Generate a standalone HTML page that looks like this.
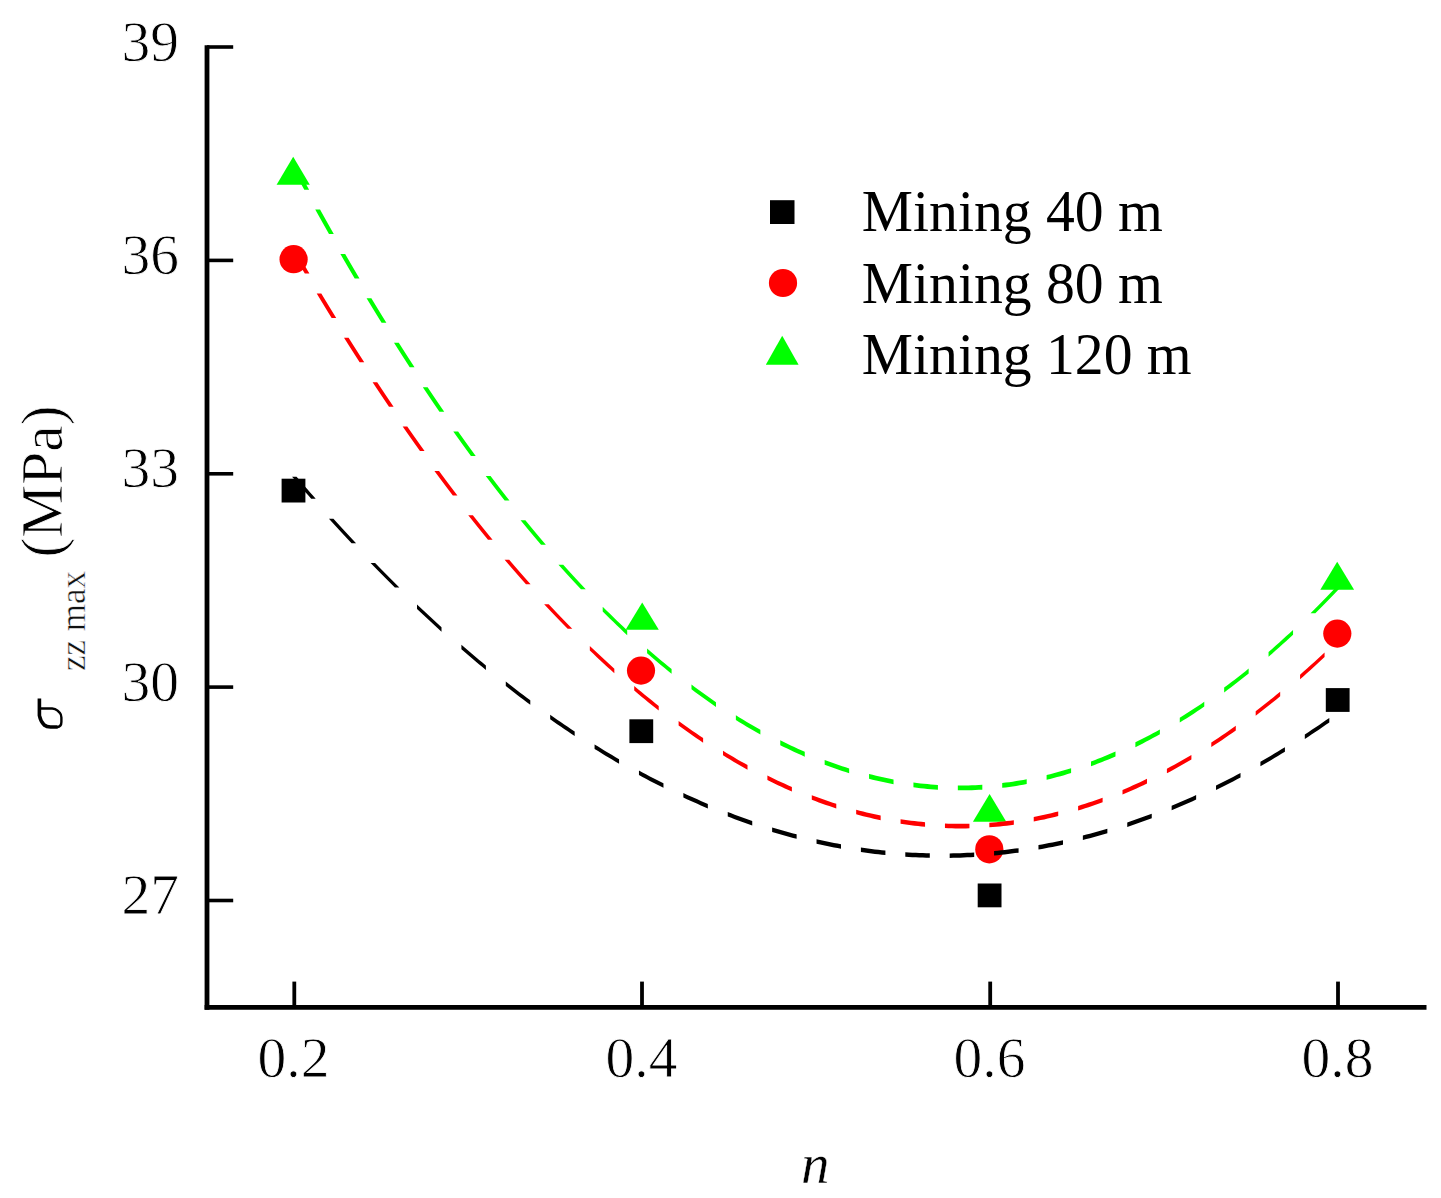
<!DOCTYPE html>
<html><head><meta charset="utf-8"><style>
html,body{margin:0;padding:0;background:#fff;width:1441px;height:1198px;overflow:hidden}
svg{display:block}
text{font-family:"Liberation Serif",serif;fill:#000;stroke:#fff;stroke-width:0.8px;paint-order:fill stroke}
</style></head><body>
<svg width="1441" height="1198" viewBox="0 0 1441 1198">
<rect width="1441" height="1198" fill="#fff"/>

<rect x="281.60" y="478.70" width="23.8" height="23.8" fill="#000"/>
<rect x="629.40" y="719.30" width="23.8" height="23.8" fill="#000"/>
<rect x="977.70" y="883.50" width="23.8" height="23.8" fill="#000"/>
<rect x="1325.80" y="688.10" width="23.8" height="23.8" fill="#000"/>
<circle cx="293.6" cy="259.2" r="14.1" fill="#f00"/>
<circle cx="641" cy="670.6" r="14.1" fill="#f00"/>
<circle cx="989.3" cy="849.3" r="14.1" fill="#f00"/>
<circle cx="1337.3" cy="633.6" r="14.1" fill="#f00"/>
<polygon points="293.20,156.7 309.80,184.7 276.60,184.7" fill="#0f0"/>
<polygon points="642.20,602.5 658.80,629.8 625.60,629.8" fill="#0f0"/>
<polygon points="989.60,794.1 1006.30,821.8 972.90,821.8" fill="#0f0"/>
<polygon points="1337.20,561.7 1354.10,589.8 1320.30,589.8" fill="#0f0"/>
<path d="M292.05,476.68 L294.75,479.84 L297.46,482.99 L300.18,486.14 L302.92,489.29 L305.66,492.45 L308.42,495.60 L311.19,498.75 L315.69,498.75 L312.92,495.60 L310.16,492.45 L307.42,489.29 L304.68,486.14 L301.96,482.99 L299.25,479.84 L296.55,476.68Z M328.95,518.64 L332.13,522.14 L335.33,525.64 L338.54,529.14 L341.77,532.64 L345.02,536.14 L348.29,539.64 L351.57,543.14 L356.07,543.14 L352.79,539.64 L349.52,536.14 L346.27,532.64 L343.04,529.14 L339.83,525.64 L336.63,522.14 L333.45,518.64Z M370.59,563.03 L374.01,566.53 L377.44,570.03 L380.90,573.53 L384.37,577.03 L387.87,580.53 L391.37,584.01 L394.87,587.47 L399.37,587.47 L395.87,584.01 L392.37,580.53 L388.87,577.03 L385.40,573.53 L381.94,570.03 L378.51,566.53 L375.09,563.03Z M417.01,604.44 L420.51,607.75 L424.01,611.04 L427.51,614.30 L431.01,617.55 L434.51,620.77 L438.01,623.96 L441.51,627.14 L441.51,631.64 L438.01,628.46 L434.51,625.27 L431.01,622.05 L427.51,618.80 L424.01,615.54 L420.51,612.25 L417.01,608.94Z M461.40,644.77 L464.90,647.80 L468.40,650.81 L471.90,653.79 L475.40,656.75 L478.90,659.69 L482.40,662.61 L485.90,665.50 L485.90,670.00 L482.40,667.11 L478.90,664.19 L475.40,661.25 L471.90,658.29 L468.40,655.31 L464.90,652.30 L461.40,649.27Z M505.79,681.54 L509.29,684.29 L512.79,687.01 L516.29,689.72 L519.79,692.40 L523.29,695.06 L526.79,697.69 L530.29,700.31 L530.29,704.81 L526.79,702.19 L523.29,699.56 L519.79,696.90 L516.29,694.22 L512.79,691.51 L509.29,688.79 L505.79,686.04Z M550.18,714.75 L553.68,717.21 L557.18,719.66 L560.68,722.08 L564.18,724.48 L567.68,726.86 L571.18,729.22 L574.68,731.55 L574.68,736.05 L571.18,733.72 L567.68,731.36 L564.18,728.98 L560.68,726.58 L557.18,724.16 L553.68,721.71 L550.18,719.25Z M594.57,744.39 L598.07,746.58 L601.57,748.74 L605.07,750.89 L608.57,753.01 L612.07,755.10 L615.57,757.18 L619.07,759.23 L619.07,763.73 L615.57,761.68 L612.07,759.60 L608.57,757.51 L605.07,755.39 L601.57,753.24 L598.07,751.08 L594.57,748.89Z M638.96,770.48 L642.46,772.39 L645.96,774.27 L649.46,776.13 L652.96,777.97 L656.46,779.79 L659.96,781.58 L663.46,783.35 L663.46,787.85 L659.96,786.08 L656.46,784.29 L652.96,782.47 L649.46,780.63 L645.96,778.77 L642.46,776.89 L638.96,774.98Z M683.35,793.01 L686.85,794.63 L690.35,796.23 L693.85,797.81 L697.35,799.37 L700.85,800.91 L704.35,802.42 L707.85,803.91 L707.85,808.41 L704.35,806.92 L700.85,805.41 L697.35,803.87 L693.85,802.31 L690.35,800.73 L686.85,799.13 L683.35,797.51Z M727.74,811.97 L731.24,813.32 L734.74,814.64 L738.24,815.94 L741.74,817.21 L745.24,818.47 L748.74,819.70 L752.24,820.91 L752.24,825.41 L748.74,824.20 L745.24,822.97 L741.74,821.71 L738.24,820.44 L734.74,819.14 L731.24,817.82 L727.74,816.47Z M772.13,827.38 L775.63,828.44 L779.13,829.48 L782.63,830.50 L786.13,831.50 L789.63,832.47 L793.13,833.42 L796.63,834.35 L796.63,838.85 L793.13,837.92 L789.63,836.97 L786.13,836.00 L782.63,835.00 L779.13,833.98 L775.63,832.94 L772.13,831.88Z M816.52,839.22 L820.02,840.00 L823.52,840.76 L827.02,841.50 L830.52,842.22 L834.02,842.91 L837.52,843.58 L841.02,844.23 L841.02,848.73 L837.52,848.08 L834.02,847.41 L830.52,846.72 L827.02,846.00 L823.52,845.26 L820.02,844.50 L816.52,843.72Z M860.91,847.50 L864.41,848.01 L867.91,848.48 L871.41,848.94 L874.91,849.38 L878.41,849.79 L881.91,850.18 L885.41,850.55 L885.41,855.05 L881.91,854.68 L878.41,854.29 L874.91,853.88 L871.41,853.44 L867.91,852.98 L864.41,852.51 L860.91,852.00Z M905.30,852.23 L908.80,852.45 L912.30,852.65 L915.80,852.82 L919.30,852.98 L922.80,853.11 L926.30,853.22 L929.80,853.31 L929.80,857.81 L926.30,857.72 L922.80,857.61 L919.30,857.48 L915.80,857.32 L912.30,857.15 L908.80,856.95 L905.30,856.73Z M949.69,853.39 L953.19,853.33 L956.69,853.25 L960.19,853.14 L963.69,853.02 L967.19,852.87 L970.69,852.70 L974.19,852.51 L974.19,857.01 L970.69,857.20 L967.19,857.37 L963.69,857.52 L960.19,857.64 L956.69,857.75 L953.19,857.83 L949.69,857.89Z M994.08,850.99 L997.58,850.65 L1001.08,850.29 L1004.58,849.90 L1008.08,849.50 L1011.58,849.07 L1015.08,848.62 L1018.58,848.14 L1018.58,852.64 L1015.08,853.12 L1011.58,853.57 L1008.08,854.00 L1004.58,854.40 L1001.08,854.79 L997.58,855.15 L994.08,855.49Z M1038.47,845.03 L1041.97,844.41 L1045.47,843.77 L1048.97,843.10 L1052.47,842.41 L1055.97,841.70 L1059.47,840.97 L1062.97,840.22 L1062.97,844.72 L1059.47,845.47 L1055.97,846.20 L1052.47,846.91 L1048.97,847.60 L1045.47,848.27 L1041.97,848.91 L1038.47,849.53Z M1082.86,835.51 L1086.36,834.61 L1089.86,833.69 L1093.36,832.74 L1096.86,831.77 L1100.36,830.78 L1103.86,829.77 L1107.36,828.73 L1107.36,833.23 L1103.86,834.27 L1100.36,835.28 L1096.86,836.27 L1093.36,837.24 L1089.86,838.19 L1086.36,839.11 L1082.86,840.01Z M1127.25,822.43 L1130.75,821.25 L1134.25,820.04 L1137.75,818.82 L1141.25,817.57 L1144.75,816.30 L1148.25,815.00 L1151.75,813.69 L1151.75,818.19 L1148.25,819.50 L1144.75,820.80 L1141.25,822.07 L1137.75,823.32 L1134.25,824.54 L1130.75,825.75 L1127.25,826.93Z M1171.64,805.79 L1175.14,804.33 L1178.64,802.84 L1182.14,801.33 L1185.64,799.80 L1189.14,798.25 L1192.64,796.68 L1196.14,795.08 L1196.14,799.58 L1192.64,801.18 L1189.14,802.75 L1185.64,804.30 L1182.14,805.83 L1178.64,807.34 L1175.14,808.83 L1171.64,810.29Z M1216.03,785.59 L1219.53,783.85 L1223.03,782.08 L1226.53,780.29 L1230.03,778.48 L1233.53,776.65 L1237.03,774.79 L1240.53,772.92 L1240.53,777.42 L1237.03,779.29 L1233.53,781.15 L1230.03,782.98 L1226.53,784.79 L1223.03,786.58 L1219.53,788.35 L1216.03,790.09Z M1260.42,761.83 L1263.92,759.80 L1267.42,757.76 L1270.92,755.69 L1274.42,753.60 L1277.92,751.48 L1281.42,749.35 L1284.92,747.19 L1284.92,751.69 L1281.42,753.85 L1277.92,755.98 L1274.42,758.10 L1270.92,760.19 L1267.42,762.26 L1263.92,764.30 L1260.42,766.33Z M1304.81,734.51 L1308.31,732.20 L1311.81,729.87 L1315.31,727.52 L1318.81,725.15 L1322.31,722.76 L1325.81,720.34 L1329.31,717.90 L1329.31,722.40 L1325.81,724.84 L1322.31,727.26 L1318.81,729.65 L1315.31,732.02 L1311.81,734.37 L1308.31,736.70 L1304.81,739.01Z" fill="#000"/>
<path d="M292.00,251.61 L293.82,254.75 L295.64,257.88 L297.47,261.01 L299.30,264.14 L301.14,267.27 L302.99,270.40 L304.83,273.53 L309.43,273.53 L307.59,270.40 L305.74,267.27 L303.90,264.14 L302.07,261.01 L300.24,257.88 L298.42,254.75 L296.60,251.61Z M316.70,293.42 L318.81,296.92 L320.93,300.42 L323.06,303.92 L325.19,307.42 L327.33,310.92 L329.48,314.42 L331.63,317.92 L336.23,317.92 L334.08,314.42 L331.93,310.92 L329.79,307.42 L327.66,303.92 L325.53,300.42 L323.41,296.92 L321.30,293.42Z M344.02,337.81 L346.22,341.31 L348.43,344.81 L350.66,348.31 L352.89,351.81 L355.12,355.31 L357.37,358.81 L359.62,362.31 L364.22,362.31 L361.97,358.81 L359.72,355.31 L357.49,351.81 L355.26,348.31 L353.03,344.81 L350.82,341.31 L348.62,337.81Z M372.60,382.20 L374.92,385.70 L377.24,389.20 L379.57,392.70 L381.91,396.20 L384.26,399.70 L386.62,403.20 L388.99,406.70 L393.59,406.70 L391.22,403.20 L388.86,399.70 L386.51,396.20 L384.17,392.70 L381.84,389.20 L379.52,385.70 L377.20,382.20Z M402.66,426.59 L405.10,430.09 L407.55,433.59 L410.01,437.09 L412.48,440.59 L414.96,444.09 L417.46,447.59 L419.96,451.09 L424.56,451.09 L422.06,447.59 L419.56,444.09 L417.08,440.59 L414.61,437.09 L412.15,433.59 L409.70,430.09 L407.26,426.59Z M434.43,470.98 L437.02,474.48 L439.62,477.98 L442.23,481.48 L444.86,484.98 L447.50,488.48 L450.16,491.98 L452.82,495.48 L457.42,495.48 L454.76,491.98 L452.10,488.48 L449.46,484.98 L446.83,481.48 L444.22,477.98 L441.62,474.48 L439.03,470.98Z M468.26,515.37 L471.03,518.87 L473.81,522.37 L476.61,525.87 L479.43,529.37 L482.26,532.87 L485.11,536.37 L487.98,539.87 L492.58,539.87 L489.71,536.37 L486.86,532.87 L484.03,529.37 L481.21,525.87 L478.41,522.37 L475.63,518.87 L472.86,515.37Z M504.61,559.76 L507.60,563.26 L510.61,566.76 L513.64,570.26 L516.70,573.76 L519.77,577.26 L522.86,580.76 L525.98,584.26 L530.58,584.26 L527.46,580.76 L524.37,577.26 L521.30,573.76 L518.24,570.26 L515.21,566.76 L512.20,563.26 L509.21,559.76Z M544.14,604.15 L547.42,607.65 L550.72,611.15 L554.05,614.65 L557.41,618.15 L560.80,621.65 L564.22,625.15 L567.66,628.65 L572.26,628.65 L568.82,625.15 L565.40,621.65 L562.01,618.15 L558.65,614.65 L555.32,611.15 L552.02,607.65 L548.74,604.15Z M589.83,645.93 L593.33,649.27 L596.83,652.58 L600.33,655.86 L603.83,659.11 L607.33,662.33 L610.83,665.51 L614.33,668.66 L614.33,673.26 L610.83,670.11 L607.33,666.93 L603.83,663.71 L600.33,660.46 L596.83,657.18 L593.33,653.87 L589.83,650.53Z M634.22,685.98 L637.72,688.92 L641.22,691.83 L644.72,694.70 L648.22,697.55 L651.72,700.36 L655.22,703.15 L658.72,705.90 L658.72,710.50 L655.22,707.75 L651.72,704.96 L648.22,702.15 L644.72,699.30 L641.22,696.43 L637.72,693.52 L634.22,690.58Z M678.61,720.92 L682.11,723.46 L685.61,725.97 L689.11,728.45 L692.61,730.89 L696.11,733.30 L699.61,735.68 L703.11,738.03 L703.11,742.63 L699.61,740.28 L696.11,737.90 L692.61,735.49 L689.11,733.05 L685.61,730.57 L682.11,728.06 L678.61,725.52Z M723.00,750.77 L726.50,752.91 L730.00,755.01 L733.50,757.09 L737.00,759.13 L740.50,761.14 L744.00,763.12 L747.50,765.06 L747.50,769.66 L744.00,767.72 L740.50,765.74 L737.00,763.73 L733.50,761.69 L730.00,759.61 L726.50,757.51 L723.00,755.37Z M767.39,775.52 L770.89,777.25 L774.39,778.96 L777.89,780.63 L781.39,782.27 L784.89,783.87 L788.39,785.45 L791.89,786.99 L791.89,791.59 L788.39,790.05 L784.89,788.47 L781.39,786.87 L777.89,785.23 L774.39,783.56 L770.89,781.85 L767.39,780.12Z M811.78,795.17 L815.28,796.50 L818.78,797.80 L822.28,799.07 L825.78,800.31 L829.28,801.51 L832.78,802.69 L836.28,803.83 L836.28,808.43 L832.78,807.29 L829.28,806.11 L825.78,804.91 L822.28,803.67 L818.78,802.40 L815.28,801.10 L811.78,799.77Z M856.17,809.72 L859.67,810.65 L863.17,811.54 L866.67,812.41 L870.17,813.25 L873.67,814.05 L877.17,814.82 L880.67,815.56 L880.67,820.16 L877.17,819.42 L873.67,818.65 L870.17,817.85 L866.67,817.01 L863.17,816.14 L859.67,815.25 L856.17,814.32Z M900.56,819.16 L904.06,819.69 L907.56,820.19 L911.06,820.65 L914.56,821.08 L918.06,821.49 L921.56,821.86 L925.06,822.19 L925.06,826.79 L921.56,826.46 L918.06,826.09 L914.56,825.68 L911.06,825.25 L907.56,824.79 L904.06,824.29 L900.56,823.76Z M944.95,823.51 L948.45,823.64 L951.95,823.73 L955.45,823.79 L958.95,823.82 L962.45,823.82 L965.95,823.79 L969.45,823.73 L969.45,828.33 L965.95,828.39 L962.45,828.42 L958.95,828.42 L955.45,828.39 L951.95,828.33 L948.45,828.24 L944.95,828.11Z M989.34,822.76 L992.84,822.48 L996.34,822.17 L999.84,821.84 L1003.34,821.46 L1006.84,821.06 L1010.34,820.63 L1013.84,820.16 L1013.84,824.76 L1010.34,825.23 L1006.84,825.66 L1003.34,826.06 L999.84,826.44 L996.34,826.77 L992.84,827.08 L989.34,827.36Z M1033.73,816.91 L1037.23,816.23 L1040.73,815.52 L1044.23,814.78 L1047.73,814.00 L1051.23,813.20 L1054.73,812.36 L1058.23,811.49 L1058.23,816.09 L1054.73,816.96 L1051.23,817.80 L1047.73,818.60 L1044.23,819.38 L1040.73,820.12 L1037.23,820.83 L1033.73,821.51Z M1078.12,805.96 L1081.62,804.87 L1085.12,803.76 L1088.62,802.62 L1092.12,801.44 L1095.62,800.24 L1099.12,799.00 L1102.62,797.73 L1102.62,802.33 L1099.12,803.60 L1095.62,804.84 L1092.12,806.04 L1088.62,807.22 L1085.12,808.36 L1081.62,809.47 L1078.12,810.56Z M1122.51,789.90 L1126.01,788.42 L1129.51,786.91 L1133.01,785.36 L1136.51,783.78 L1140.01,782.17 L1143.51,780.53 L1147.01,778.86 L1147.01,783.46 L1143.51,785.13 L1140.01,786.77 L1136.51,788.38 L1133.01,789.96 L1129.51,791.51 L1126.01,793.02 L1122.51,794.50Z M1166.90,768.75 L1170.40,766.87 L1173.90,764.95 L1177.40,763.00 L1180.90,761.02 L1184.40,759.01 L1187.90,756.97 L1191.40,754.89 L1191.40,759.49 L1187.90,761.57 L1184.40,763.61 L1180.90,765.62 L1177.40,767.60 L1173.90,769.55 L1170.40,771.47 L1166.90,773.35Z M1211.29,742.50 L1214.79,740.21 L1218.29,737.90 L1221.79,735.55 L1225.29,733.16 L1228.79,730.75 L1232.29,728.30 L1235.79,725.83 L1235.79,730.43 L1232.29,732.90 L1228.79,735.35 L1225.29,737.76 L1221.79,740.15 L1218.29,742.50 L1214.79,744.81 L1211.29,747.10Z M1255.68,711.15 L1259.18,708.46 L1262.68,705.74 L1266.18,702.99 L1269.68,700.20 L1273.18,697.39 L1276.68,694.54 L1280.18,691.66 L1280.18,696.26 L1276.68,699.14 L1273.18,701.99 L1269.68,704.80 L1266.18,707.59 L1262.68,710.34 L1259.18,713.06 L1255.68,715.75Z M1300.07,674.70 L1303.57,671.61 L1307.07,668.48 L1310.57,665.33 L1314.07,662.14 L1317.57,658.93 L1321.07,655.68 L1324.57,652.40 L1324.57,657.00 L1321.07,660.28 L1317.57,663.53 L1314.07,666.74 L1310.57,669.93 L1307.07,673.08 L1303.57,676.21 L1300.07,679.30Z" fill="#f00"/>
<path d="M291.90,166.76 L293.66,170.04 L295.42,173.31 L297.18,176.58 L298.95,179.86 L300.73,183.13 L302.51,186.41 L304.29,189.68 L309.09,189.68 L307.31,186.41 L305.53,183.13 L303.75,179.86 L301.98,176.58 L300.22,173.31 L298.46,170.04 L296.70,166.76Z M315.24,209.57 L317.19,213.07 L319.14,216.57 L321.10,220.07 L323.06,223.57 L325.03,227.07 L327.01,230.57 L328.99,234.07 L333.79,234.07 L331.81,230.57 L329.83,227.07 L327.86,223.57 L325.90,220.07 L323.94,216.57 L321.99,213.07 L320.04,209.57Z M340.38,253.96 L342.40,257.46 L344.44,260.96 L346.48,264.46 L348.52,267.96 L350.57,271.46 L352.63,274.96 L354.70,278.46 L359.50,278.46 L357.43,274.96 L355.37,271.46 L353.32,267.96 L351.28,264.46 L349.24,260.96 L347.20,257.46 L345.18,253.96Z M366.58,298.35 L368.70,301.85 L370.82,305.35 L372.95,308.85 L375.09,312.35 L377.24,315.85 L379.39,319.35 L381.56,322.85 L386.36,322.85 L384.19,319.35 L382.04,315.85 L379.89,312.35 L377.75,308.85 L375.62,305.35 L373.50,301.85 L371.38,298.35Z M394.00,342.74 L396.22,346.24 L398.45,349.74 L400.69,353.24 L402.93,356.74 L405.19,360.24 L407.45,363.74 L409.73,367.24 L414.53,367.24 L412.25,363.74 L409.99,360.24 L407.73,356.74 L405.49,353.24 L403.25,349.74 L401.02,346.24 L398.80,342.74Z M422.83,387.13 L425.17,390.63 L427.52,394.13 L429.88,397.63 L432.25,401.13 L434.63,404.63 L437.02,408.13 L439.43,411.63 L444.23,411.63 L441.82,408.13 L439.43,404.63 L437.05,401.13 L434.68,397.63 L432.32,394.13 L429.97,390.63 L427.63,387.13Z M453.30,431.52 L455.78,435.02 L458.28,438.52 L460.78,442.02 L463.30,445.52 L465.83,449.02 L468.38,452.52 L470.94,456.02 L475.74,456.02 L473.18,452.52 L470.63,449.02 L468.10,445.52 L465.58,442.02 L463.08,438.52 L460.58,435.02 L458.10,431.52Z M485.74,475.91 L488.39,479.41 L491.06,482.91 L493.74,486.41 L496.44,489.91 L499.16,493.41 L501.89,496.91 L504.64,500.41 L509.44,500.41 L506.69,496.91 L503.96,493.41 L501.24,489.91 L498.54,486.41 L495.86,482.91 L493.19,479.41 L490.54,475.91Z M520.58,520.30 L523.44,523.80 L526.33,527.30 L529.23,530.80 L532.16,534.30 L535.10,537.80 L538.06,541.30 L541.05,544.80 L545.85,544.80 L542.86,541.30 L539.90,537.80 L536.96,534.30 L534.03,530.80 L531.13,527.30 L528.24,523.80 L525.38,520.30Z M558.44,564.69 L561.58,568.19 L564.75,571.69 L567.94,575.19 L571.16,578.69 L574.40,582.19 L577.67,585.69 L580.97,589.19 L585.77,589.19 L582.47,585.69 L579.20,582.19 L575.96,578.69 L572.74,575.19 L569.55,571.69 L566.38,568.19 L563.24,564.69Z M602.71,606.68 L606.20,610.17 L609.70,613.62 L613.20,617.04 L616.70,620.43 L620.20,623.78 L623.70,627.10 L627.20,630.38 L627.20,635.18 L623.70,631.90 L620.20,628.58 L616.70,625.23 L613.20,621.84 L609.70,618.42 L606.20,614.97 L602.71,611.48Z M647.09,648.38 L650.59,651.44 L654.09,654.46 L657.59,657.44 L661.09,660.39 L664.59,663.31 L668.09,666.19 L671.59,669.03 L671.59,673.83 L668.09,670.99 L664.59,668.11 L661.09,665.19 L657.59,662.24 L654.09,659.26 L650.59,656.24 L647.09,653.18Z M691.48,684.56 L694.98,687.18 L698.48,689.76 L701.98,692.31 L705.48,694.82 L708.98,697.30 L712.48,699.75 L715.98,702.16 L715.98,706.96 L712.48,704.55 L708.98,702.10 L705.48,699.62 L701.98,697.11 L698.48,694.56 L694.98,691.98 L691.48,689.36Z M735.87,715.21 L739.37,717.39 L742.87,719.54 L746.37,721.65 L749.87,723.73 L753.37,725.78 L756.87,727.78 L760.37,729.76 L760.37,734.56 L756.87,732.58 L753.37,730.58 L749.87,728.53 L746.37,726.45 L742.87,724.34 L739.37,722.19 L735.87,720.01Z M780.26,740.33 L783.76,742.08 L787.26,743.79 L790.76,745.47 L794.26,747.11 L797.76,748.72 L801.26,750.29 L804.76,751.83 L804.76,756.63 L801.26,755.09 L797.76,753.52 L794.26,751.91 L790.76,750.27 L787.26,748.59 L783.76,746.88 L780.26,745.13Z M824.65,759.93 L828.15,761.24 L831.65,762.52 L835.15,763.76 L838.65,764.96 L842.15,766.14 L845.65,767.28 L849.15,768.38 L849.15,773.18 L845.65,772.08 L842.15,770.94 L838.65,769.76 L835.15,768.56 L831.65,767.32 L828.15,766.04 L824.65,764.73Z M869.04,774.00 L872.54,774.87 L876.04,775.71 L879.54,776.52 L883.04,777.29 L886.54,778.03 L890.04,778.73 L893.54,779.40 L893.54,784.20 L890.04,783.53 L886.54,782.83 L883.04,782.09 L879.54,781.32 L876.04,780.51 L872.54,779.67 L869.04,778.80Z M913.43,782.54 L916.93,782.98 L920.43,783.39 L923.93,783.76 L927.43,784.09 L930.93,784.39 L934.43,784.66 L937.93,784.89 L937.93,789.69 L934.43,789.46 L930.93,789.19 L927.43,788.89 L923.93,788.56 L920.43,788.19 L916.93,787.78 L913.43,787.34Z M957.82,785.56 L961.32,785.56 L964.82,785.53 L968.32,785.47 L971.82,785.37 L975.32,785.23 L978.82,785.06 L982.32,784.86 L982.32,789.66 L978.82,789.86 L975.32,790.03 L971.82,790.17 L968.32,790.27 L964.82,790.33 L961.32,790.36 L957.82,790.36Z M1002.21,783.05 L1005.71,782.62 L1009.21,782.15 L1012.71,781.65 L1016.21,781.11 L1019.71,780.54 L1023.21,779.94 L1026.71,779.30 L1026.71,784.10 L1023.21,784.74 L1019.71,785.34 L1016.21,785.91 L1012.71,786.45 L1009.21,786.95 L1005.71,787.42 L1002.21,787.85Z M1046.60,775.01 L1050.10,774.15 L1053.60,773.24 L1057.10,772.30 L1060.60,771.33 L1064.10,770.33 L1067.60,769.29 L1071.10,768.21 L1071.10,773.01 L1067.60,774.09 L1064.10,775.13 L1060.60,776.13 L1057.10,777.10 L1053.60,778.04 L1050.10,778.95 L1046.60,779.81Z M1090.99,761.45 L1094.49,760.15 L1097.99,758.81 L1101.49,757.43 L1104.99,756.03 L1108.49,754.58 L1111.99,753.11 L1115.49,751.60 L1115.49,756.40 L1111.99,757.91 L1108.49,759.38 L1104.99,760.83 L1101.49,762.23 L1097.99,763.61 L1094.49,764.95 L1090.99,766.25Z M1135.38,742.36 L1138.88,740.62 L1142.38,738.85 L1145.88,737.04 L1149.38,735.19 L1152.88,733.32 L1156.38,731.40 L1159.88,729.46 L1159.88,734.26 L1156.38,736.20 L1152.88,738.12 L1149.38,739.99 L1145.88,741.84 L1142.38,743.65 L1138.88,745.42 L1135.38,747.16Z M1179.77,717.74 L1183.27,715.57 L1186.77,713.36 L1190.27,711.11 L1193.77,708.83 L1197.27,706.52 L1200.77,704.17 L1204.27,701.79 L1204.27,706.59 L1200.77,708.97 L1197.27,711.32 L1193.77,713.63 L1190.27,715.91 L1186.77,718.16 L1183.27,720.37 L1179.77,722.54Z M1224.16,687.60 L1227.66,684.99 L1231.16,682.34 L1234.66,679.66 L1238.16,676.95 L1241.66,674.20 L1245.16,671.42 L1248.66,668.60 L1248.66,673.40 L1245.16,676.22 L1241.66,679.00 L1238.16,681.75 L1234.66,684.46 L1231.16,687.14 L1227.66,689.79 L1224.16,692.40Z M1268.55,651.93 L1272.05,648.88 L1275.55,645.80 L1279.05,642.69 L1282.55,639.54 L1286.05,636.35 L1289.55,633.13 L1293.05,629.88 L1293.05,634.68 L1289.55,637.93 L1286.05,641.15 L1282.55,644.34 L1279.05,647.49 L1275.55,650.60 L1272.05,653.68 L1268.55,656.73Z M1310.54,613.14 L1314.04,609.65 L1317.53,606.15 L1320.98,602.65 L1324.39,599.15 L1327.78,595.65 L1331.13,592.15 L1334.46,588.65 L1339.26,588.65 L1335.93,592.15 L1332.58,595.65 L1329.19,599.15 L1325.78,602.65 L1322.33,606.15 L1318.84,609.65 L1315.34,613.14Z" fill="#0f0"/>
<g stroke="#000" fill="none">
<line x1="207" y1="45.2" x2="207" y2="1009.8" stroke-width="4.8"/>
<line x1="204.6" y1="1007.4" x2="1426.5" y2="1007.4" stroke-width="4.8"/>
<line x1="207" y1="47.0" x2="233.2" y2="47.0" stroke-width="3.6"/>
<line x1="207" y1="260.4" x2="233.2" y2="260.4" stroke-width="3.6"/>
<line x1="207" y1="473.8" x2="233.2" y2="473.8" stroke-width="3.6"/>
<line x1="207" y1="687.1" x2="233.2" y2="687.1" stroke-width="3.6"/>
<line x1="207" y1="900.5" x2="233.2" y2="900.5" stroke-width="3.6"/>
<line x1="294.3" y1="981.6" x2="294.3" y2="1007.4" stroke-width="3.8"/>
<line x1="642.0" y1="981.6" x2="642.0" y2="1007.4" stroke-width="3.8"/>
<line x1="990.2" y1="981.6" x2="990.2" y2="1007.4" stroke-width="3.8"/>
<line x1="1338.0" y1="981.6" x2="1338.0" y2="1007.4" stroke-width="3.8"/>
</g>
<text x="179" y="60.6" font-size="57.5" text-anchor="end">39</text>
<text x="179" y="274.0" font-size="57.5" text-anchor="end">36</text>
<text x="179" y="487.4" font-size="57.5" text-anchor="end">33</text>
<text x="179" y="700.7" font-size="57.5" text-anchor="end">30</text>
<text x="179" y="914.1" font-size="57.5" text-anchor="end">27</text>
<text x="293.5" y="1077" font-size="57.5" text-anchor="middle">0.2</text>
<text x="641.5" y="1077" font-size="57.5" text-anchor="middle">0.4</text>
<text x="989.5" y="1077" font-size="57.5" text-anchor="middle">0.6</text>
<text x="1337.5" y="1077" font-size="57.5" text-anchor="middle">0.8</text>
<text x="815.3" y="1182.5" font-size="57" font-style="italic" text-anchor="middle" style="stroke-width:0.4px">n</text>
<path d="M39.4,698.4 V715.5 Q40.6,721.5 44.2,725 Q46.6,727 50.5,727 H57.5" fill="none" stroke="#000" stroke-width="3.6"/>
<path d="M40.8,708.5 H52.2 Q55.2,708.6 57.6,710.6 L59.8,712.8 Q61.4,714.6 61.4,717.5 V722 Q61.4,726.6 57,727.2" fill="none" stroke="#000" stroke-width="2.4"/>
<g transform="translate(62.3,0) rotate(-90)">
<text x="-671" y="23" font-size="35" style="stroke-width:0.5px;fill:#111">zz max</text>
<text x="-557.5" y="0" font-size="59.5">(MPa)</text>
</g>
<rect x="770" y="200.2" width="24.5" height="23.8" fill="#000"/>
<circle cx="783" cy="283" r="14.1" fill="#f00"/>
<polygon points="782.2,335.8 798.6,364.7 765.8,364.7" fill="#0f0"/>
<text transform="translate(861.8,231.2) scale(0.969,1)" x="0" y="0" font-size="59.5" style="stroke:none">Mining 40 m</text>
<text transform="translate(861.8,302.7) scale(0.969,1)" x="0" y="0" font-size="59.5" style="stroke:none">Mining 80 m</text>
<text transform="translate(861.8,374.2) scale(0.969,1)" x="0" y="0" font-size="59.5" style="stroke:none">Mining 120 m</text>
</svg></body></html>
